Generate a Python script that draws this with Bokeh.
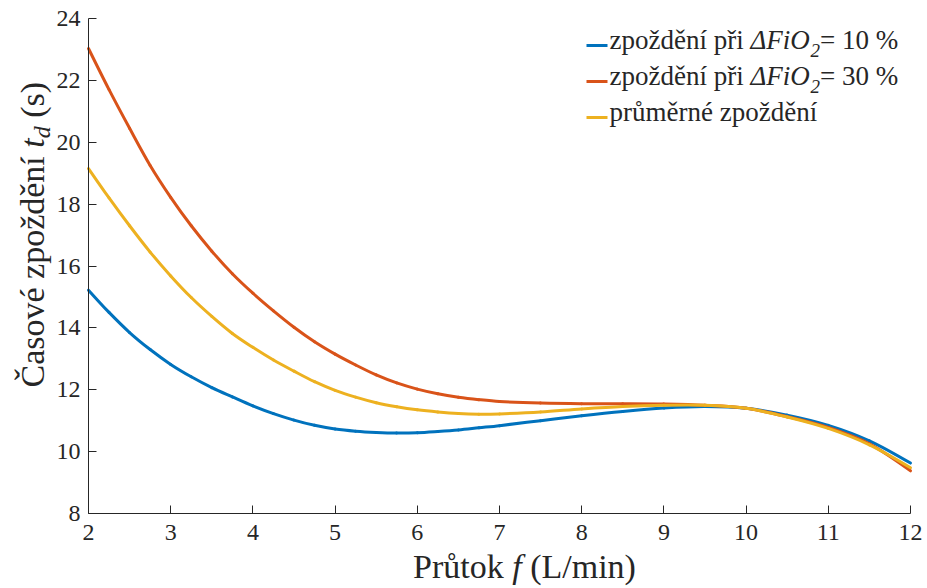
import numpy as np
from bokeh.plotting import figure
from bokeh.models import Label, Range1d, FixedTicker
from bokeh.embed import file_html
from bokeh.resources import INLINE

# ---------------- data ----------------
flow = [2.00, 2.25, 2.50, 2.75, 3.00, 3.25, 3.50, 3.75, 4.00, 4.25, 4.50, 4.75,
        5.00, 5.25, 5.50, 5.75, 6.00, 6.25, 6.50, 6.75, 7.00, 7.50, 8.00, 8.50,
        9.00, 9.50, 10.00, 10.50, 11.00, 11.50, 12.00]

delay_10 = [15.22, 14.50, 13.85, 13.30, 12.82, 12.42, 12.07, 11.77, 11.48, 11.23,
            11.02, 10.85, 10.73, 10.66, 10.62, 10.60, 10.61, 10.65, 10.70, 10.77,
            10.84, 11.00, 11.16, 11.30, 11.41, 11.46, 11.40, 11.18, 10.85, 10.35, 9.63]

delay_30 = [23.03, 21.70, 20.45, 19.25, 18.22, 17.30, 16.48, 15.75, 15.12, 14.55,
            14.02, 13.55, 13.15, 12.80, 12.48, 12.22, 12.02, 11.87, 11.76, 11.68,
            11.62, 11.57, 11.55, 11.55, 11.54, 11.50, 11.40, 11.13, 10.78, 10.25, 9.38]

delay_avg = [19.15, 18.20, 17.30, 16.45, 15.68, 14.98, 14.37, 13.82, 13.37, 12.96,
             12.60, 12.26, 11.98, 11.76, 11.58, 11.45, 11.35, 11.28, 11.23, 11.21,
             11.22, 11.28, 11.38, 11.46, 11.50, 11.50, 11.40, 11.12, 10.75, 10.22, 9.48]

x_ticks = [2, 3, 4, 5, 6, 7, 8, 9, 10, 11, 12]
y_ticks = [8, 10, 12, 14, 16, 18, 20, 22, 24]

colors = ["#0072BD", "#D95319", "#EDB120"]

# ---------------- layout ----------------
W, H = 927, 588
FL, FR, FT, FB = 88, 910, 18, 513          # pixel box of the axes
X0, X1, Y0, Y1 = 2, 12, 8, 24
KX = (X1 - X0) / (FR - FL)
KY = (Y1 - Y0) / (FB - FT)

# the frame covers the whole canvas; the axes are pinned at x=2 / y=8
p = figure(width=W, height=H, output_backend="svg", toolbar_location=None,
           x_range=Range1d(X0 - FL * KX, X1 + (W - FR) * KX),
           y_range=Range1d(Y0 - (H - FB) * KY, Y1 + FT * KY),
           min_border=0)
p.outline_line_color = None
p.grid.visible = False
p.background_fill_color = "white"
p.border_fill_color = "white"

TXT = "#262626"
FONT = "Liberation Serif"
for ax in (p.xaxis[0], p.yaxis[0]):
    ax.axis_line_color = TXT
    ax.axis_line_width = 1
    ax.major_tick_line_color = TXT
    ax.major_tick_in = 8
    ax.major_tick_out = 0
    ax.minor_tick_line_color = None
    ax.major_label_text_font = FONT
    ax.major_label_text_font_size = "24px"
    ax.major_label_text_color = TXT
p.xaxis.fixed_location = Y0
p.yaxis.fixed_location = X0
p.xaxis.bounds = (X0, X1)
p.yaxis.bounds = (Y0, Y1)
p.xaxis.major_label_standoff = 11
p.yaxis.major_label_standoff = 8
p.xaxis.ticker = FixedTicker(ticks=x_ticks)
p.yaxis.ticker = FixedTicker(ticks=y_ticks)


def smooth(xs, ys, color):
    """Draw a smooth curve through the read points (cubic Hermite as Bezier)."""
    xs = np.asarray(xs, float)
    ys = np.asarray(ys, float)
    n = len(xs)
    m = np.empty(n)
    m[1:-1] = (ys[2:] - ys[:-2]) / (xs[2:] - xs[:-2])
    m[0] = (ys[1] - ys[0]) / (xs[1] - xs[0]) * 1.5 - m[1] * 0.5
    m[-1] = (ys[-1] - ys[-2]) / (xs[-1] - xs[-2]) * 1.5 - m[-2] * 0.5
    h = xs[1:] - xs[:-1]
    p.bezier(x0=xs[:-1], y0=ys[:-1], x1=xs[1:], y1=ys[1:],
             cx0=xs[:-1] + h / 3, cy0=ys[:-1] + m[:-1] * h / 3,
             cx1=xs[1:] - h / 3, cy1=ys[1:] - m[1:] * h / 3,
             line_color=color, line_width=3, line_cap="round")


for ys, c in zip([delay_10, delay_30, delay_avg], colors):
    smooth(flow, ys, c)

# ---------------- rich text helpers ----------------
def dx(px):
    return X0 + (px - FL) * KX

def dy(py):
    return Y0 + (FB - py) * KY

REG = {' ': 250, 'a': 444, 'e': 444, 'é': 444, 'ě': 444, 'i': 278, 'í': 278,
       'n': 500, 'o': 500, 'p': 500, 'r': 333, 'ř': 333, 's': 389, 'v': 500,
       'z': 444, 'ž': 444, 'd': 500, 'Č': 667, 'P': 556, 'ů': 500, 't': 278,
       'k': 500, '(': 333, ')': 333, 'L': 611, '/': 278, 'm': 778, '=': 564,
       '0': 500, '1': 500, '2': 500, '3': 500, '%': 833}
ITA = {'t': 278, 'd': 500, 'f': 278, 'Δ': 612, 'F': 611, 'i': 278, 'O': 722, '2': 500}
MID = 0.3375   # centre of the em box above the baseline (fraction of size)

def tw(s, size, italic):
    tab = ITA if italic else REG
    return sum(tab.get(ch, 500) for ch in s) / 1000.0 * size

def rich(pieces, px, py, angle=0.0):
    """pieces: (text, size, italic, shift); px, py = start of the baseline in canvas pixels"""
    pos = 0.0
    for text, size, italic, shift in pieces:
        lead = len(text) - len(text.lstrip(" "))
        pos += lead * REG[" "] / 1000.0 * size
        body = text.strip(" ")
        up = MID * size - shift
        if angle == 0.0:
            x, y = px + pos, py - up
        else:
            x, y = px - up, py - pos
        p.add_layout(Label(x=dx(x), y=dy(y), text=body, angle=angle,
                           text_font=FONT, text_font_size=f"{size}px",
                           text_font_style="italic" if italic else "normal",
                           text_color=TXT, text_align="left",
                           text_baseline="middle"))
        pos += tw(text.lstrip(" "), size, italic)
    return pos

# x axis title
xl = [("Průtok ", 34, False, 0), ("f", 34, True, 0), (" (L/min)", 34, False, 0)]
xw = sum(tw(t, s, i) for t, s, i, _ in xl)
rich(xl, 524 - xw / 2, 577)

# y axis title (rotated)
yl = [("Časové zpoždění ", 34, False, 0), ("t", 34, True, 0), ("d", 24, True, 7),
      (" (s)", 34, False, 0)]
rich(yl, 43, 387, angle=np.pi / 2)

# legend
legend_rows = [
    [("zpoždění při ", 27, False, 0), ("ΔFiO", 27, True, 0), ("2", 19, True, 7), ("= 10 %", 27, False, 0)],
    [("zpoždění při ", 27, False, 0), ("ΔFiO", 27, True, 0), ("2", 19, True, 7), ("= 30 %", 27, False, 0)],
    [("průměrné zpoždění", 27, False, 0)],
]
for k, (row, c) in enumerate(zip(legend_rows, colors)):
    base = 49 + 36 * k
    p.segment(x0=[dx(586)], y0=[dy(base - 4)], x1=[dx(607)], y1=[dy(base - 4)],
              line_color=c, line_width=3)
    rich(row, 609, base)

open("out.html", "w").write(file_html(p, INLINE))
